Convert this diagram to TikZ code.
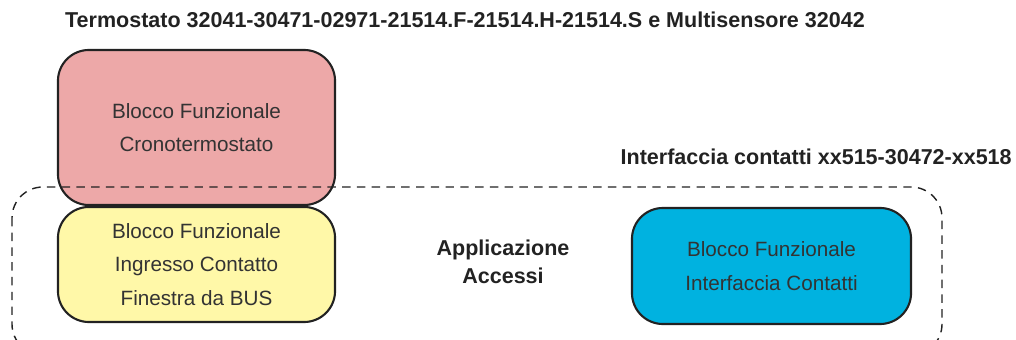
\documentclass[tikz,border=0pt]{standalone}
\usepackage{fontspec}
\setmainfont{Liberation Sans}
\newfontfamily\blockfont{Liberation Sans}
\newfontfamily\labelfont{Liberation Sans}
\definecolor{pinkfill}{HTML}{EDA8A8}
\definecolor{yellowfill}{HTML}{FFF8A8}
\definecolor{bluefill}{HTML}{00B2E0}
\definecolor{edgegray}{HTML}{222222}
\definecolor{textgray}{HTML}{333333}
\tikzset{
  block/.style={draw=edgegray,line width=1.5pt,rounded corners=22pt,align=center,
    text=textgray,font=\blockfont\fontsize{14.7}{24}\selectfont},
  grouplabel/.style={font=\labelfont\bfseries\fontsize{15.3}{20}\selectfont,text=edgegray,align=center},
}
\begin{document}
\begin{tikzpicture}[x=0.025cm,y=-0.025cm]
\useasboundingbox (0,0) rectangle (1016,340);
\clip (0,0) rectangle (1016,340);
% top title
\node[grouplabel] (title) at (465,20) {Termostato 32041-30471-02971-21514.F-21514.H-21514.S e Multisensore 32042};
% blocks
\node[block,fill=pinkfill,minimum width=6.925cm,minimum height=3.875cm] (crono) at (196.5,127.5)
  {Blocco Funzionale\\Cronotermostato};
\node[block,fill=yellowfill,minimum width=6.925cm,minimum height=2.875cm] (ingresso) at (196.5,264.5)
  {Blocco Funzionale\\Ingresso Contatto\\Finestra da BUS};
\node[block,fill=bluefill,minimum width=6.975cm,minimum height=2.9cm] (interf) at (771.5,266)
  {Blocco Funzionale\\Interfaccia Contatti};
% dashed group
\draw[edgegray,line width=1pt,dash pattern=on 6pt off 4.5pt,rounded corners=22pt]
  (12,187) rectangle (942,355);
\node[grouplabel] (accessi) at (503,262) {Applicazione\\Accessi};
\node[grouplabel,anchor=east,inner xsep=0pt] (ifclabel) at (1012,157) {Interfaccia contatti xx515-30472-xx518};
\end{tikzpicture}
\end{document}
